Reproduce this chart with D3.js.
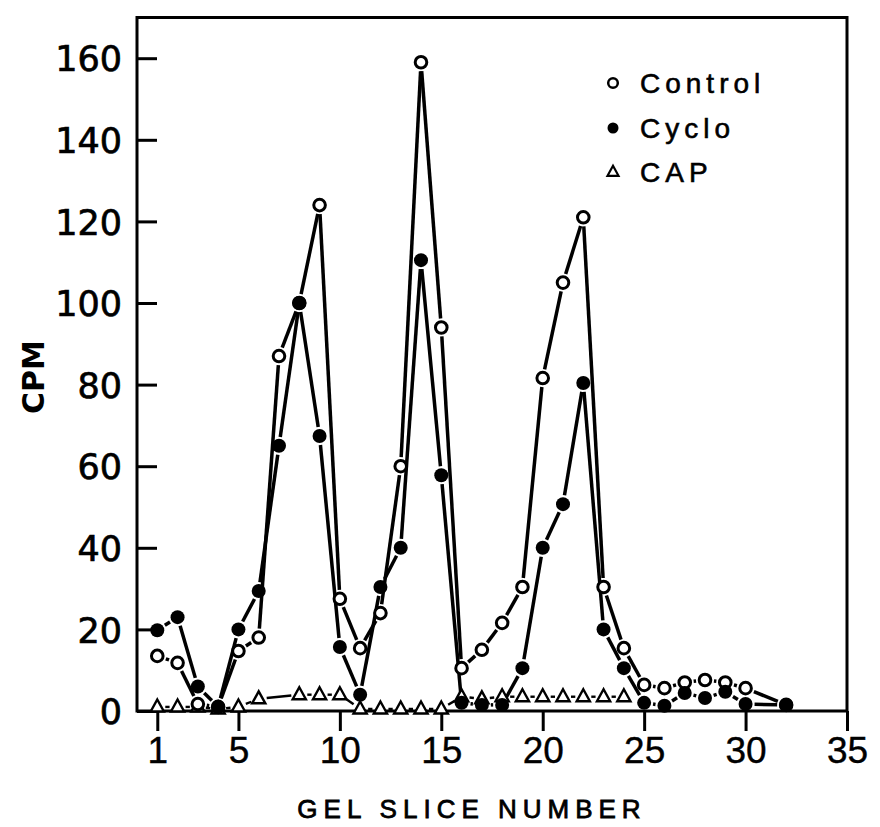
<!DOCTYPE html>
<html>
<head>
<meta charset="utf-8">
<script src="https://cdn.jsdelivr.net/npm/d3@7"></script>
<style>
  html, body { margin: 0; padding: 0; background: #fff; }
  svg { display: block; }
</style>
</head>
<body>
<svg id="chart" width="880" height="827"></svg>
<script>
// Gel slice profiles (CPM per slice)
const controlSlices = [1, 2, 3, 4, 5, 6, 7, 8, 9, 10, 11, 12, 13, 14, 15, 16, 17, 18, 19, 20, 21, 22, 23, 24, 25, 26, 27, 28, 29, 30, 32];
const controlCPM    = [13.5, 11.8, 1.7, 1, 14.7, 18, 87, 100, 124, 27.5, 15.4, 24, 60, 159, 94, 10.5, 15, 21.6, 30.4, 81.6, 105, 121, 30.4, 15.4, 6.4, 5.6, 7, 7.6, 7, 5.6, 1.5];

const cycloSlices = [1, 2, 3, 4, 5, 6, 7, 8, 9, 10, 11, 12, 13, 14, 15, 16, 17, 18, 19, 20, 21, 22, 23, 24, 25, 26, 27, 28, 29, 30, 32];
const cycloCPM    = [19.8, 23, 6, 1, 20, 29.4, 65, 100, 67.4, 15.7, 4, 30.4, 40, 110.5, 57.8, 2, 1.5, 1.5, 10.5, 40, 50.7, 80.4, 20, 10.5, 2, 1.3, 4.4, 3.2, 4.7, 1.7, 1.5];

const capSlices = [1, 2, 3, 4, 5, 6, 8, 9, 10, 11, 12, 13, 14, 15, 16, 17, 18, 19, 20, 21, 22, 23, 24];
const capCPM    = [1, 1, 1, 0.5, 1, 3, 4, 4, 4, 0.5, 0.5, 0.5, 0.5, 0.5, 3.5, 3, 3.5, 3.5, 3.5, 3.5, 3.5, 3.5, 3.5];

const xTicks = [1, 5, 10, 15, 20, 25, 30, 35];
const yTicks = [0, 20, 40, 60, 80, 100, 120, 140, 160];
const legendLabels = ["Control", "Cyclo", "CAP"];

const svg = d3.select("#chart");
const x = d3.scaleLinear().domain([0, 35]).range([137, 847]);
const y = d3.scaleLinear().domain([0, 170]).range([711, 17.4]);

const ink = "#000";

// frame
svg.append("path")
  .attr("d", `M${x(0)},${y(170)}V${y(0)}H${x(35)}V${y(170)}Z`)
  .attr("fill", "none").attr("stroke", ink).attr("stroke-width", 3);

// y axis (ticks inward)
const yAxis = svg.append("g").attr("transform", `translate(${x(0)},0)`)
  .call(d3.axisLeft(y).tickValues(yTicks).tickSize(-20).tickPadding(15));
yAxis.select(".domain").remove();
yAxis.selectAll(".tick line").attr("stroke", ink).attr("stroke-width", 3);
yAxis.selectAll(".tick text")
  .attr("font-family", "'DejaVu Sans', sans-serif").attr("font-size", 35)
  .attr("fill", ink).attr("stroke", ink).attr("stroke-width", 0.7).attr("dy", "0.36em");

// x axis (ticks outward)
const xAxis = svg.append("g").attr("transform", `translate(0,${y(0)})`)
  .call(d3.axisBottom(x).tickValues(xTicks).tickSize(20).tickPadding(6));
xAxis.select(".domain").remove();
xAxis.selectAll(".tick line").attr("stroke", ink).attr("stroke-width", 3);
xAxis.selectAll(".tick text")
  .attr("font-family", "'Liberation Sans', Arial, sans-serif").attr("font-size", 37)
  .attr("fill", ink).attr("stroke", ink).attr("stroke-width", 0.4);

// axis titles
svg.append("text")
  .attr("x", 472).attr("y", 818)
  .attr("text-anchor", "middle")
  .attr("font-family", "'Liberation Sans', Arial, sans-serif")
  .attr("font-size", 26).attr("letter-spacing", 6)
  .attr("fill", ink).attr("stroke", ink).attr("stroke-width", 0.8)
  .text("GEL SLICE NUMBER");

svg.append("text")
  .attr("transform", `translate(44,377) rotate(-90)`)
  .attr("text-anchor", "middle")
  .attr("font-family", "'DejaVu Sans', sans-serif")
  .attr("font-size", 30).attr("font-weight", "bold")
  .attr("fill", ink).text("CPM");

// connecting lines, broken short of each marker
function drawSegments(xs, vs, trim, width) {
  const pts = xs.map((s, i) => [x(s), y(vs[i])]);
  const g = svg.append("g");
  for (let i = 1; i < pts.length; i++) {
    const [x0, y0] = pts[i - 1], [x1, y1] = pts[i];
    const dx = x1 - x0, dy = y1 - y0, len = Math.hypot(dx, dy);
    if (len <= 2 * trim + 1) continue;
    const ux = dx / len, uy = dy / len;
    g.append("line")
      .attr("x1", x0 + ux * trim).attr("y1", y0 + uy * trim)
      .attr("x2", x1 - ux * trim).attr("y2", y1 - uy * trim)
      .attr("stroke", ink).attr("stroke-width", width).attr("stroke-linecap", "butt");
  }
}

const triPath = s => `M0,${-s * 0.62}L${s * 0.55},${s * 0.38}L${-s * 0.55},${s * 0.38}Z`;

drawSegments(capSlices, capCPM, 8, 2.4);
drawSegments(controlSlices, controlCPM, 9, 3.5);
drawSegments(cycloSlices, cycloCPM, 9, 3.5);

svg.append("g").selectAll("path").data(capSlices).join("path")
  .attr("transform", (d, i) => `translate(${x(d)},${y(capCPM[i])})`)
  .attr("d", triPath(12))
  .attr("fill", "#fff").attr("stroke", ink).attr("stroke-width", 2.4);

svg.append("g").selectAll("circle").data(controlSlices).join("circle")
  .attr("cx", d => x(d)).attr("cy", (d, i) => y(controlCPM[i]))
  .attr("r", 5.8).attr("fill", "#fff").attr("stroke", ink).attr("stroke-width", 3);

svg.append("g").selectAll("circle").data(cycloSlices).join("circle")
  .attr("cx", d => x(d)).attr("cy", (d, i) => y(cycloCPM[i]))
  .attr("r", 7).attr("fill", ink);

// legend
const legY = [83, 128, 172];
const leg = svg.append("g");
leg.append("circle").attr("cx", 613).attr("cy", legY[0]).attr("r", 4.8)
  .attr("fill", "#fff").attr("stroke", ink).attr("stroke-width", 2.5);
leg.append("circle").attr("cx", 613).attr("cy", legY[1]).attr("r", 5.5).attr("fill", ink);
leg.append("path").attr("transform", `translate(613,${legY[2]})`).attr("d", triPath(10))
  .attr("fill", "#fff").attr("stroke", ink).attr("stroke-width", 2.2);
leg.selectAll("text").data(legendLabels).join("text")
  .attr("x", 640).attr("y", (d, i) => legY[i] + 10)
  .attr("font-family", "'Liberation Sans', Arial, sans-serif")
  .attr("font-size", 28).attr("letter-spacing", 5)
  .attr("fill", ink).attr("stroke", ink).attr("stroke-width", 0.6)
  .text(d => d);
</script>
</body>
</html>
